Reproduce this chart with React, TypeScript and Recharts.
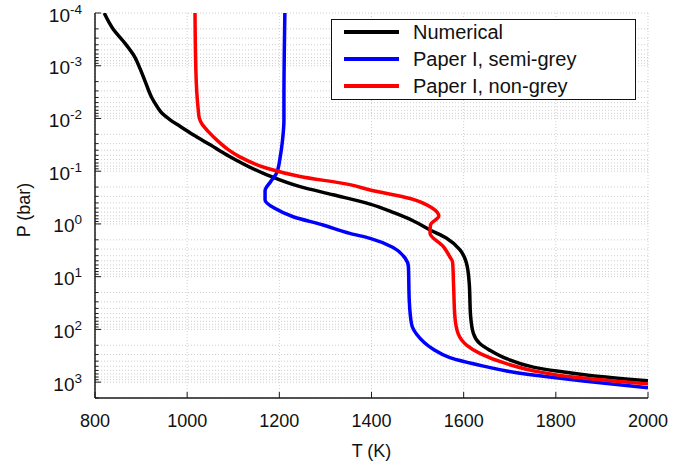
import React from 'react';
import { LineChart, Line, XAxis, YAxis, CartesianGrid, Legend } from 'recharts';

const FONT = '"Liberation Sans", Arial, Helvetica, sans-serif';

// axes
const T_TICKS = [800, 1000, 1200, 1400, 1600, 1800, 2000];
const P_DECADES = [1e-4, 1e-3, 1e-2, 1e-1, 1, 10, 100, 1000];
const P_MINOR = P_DECADES.flatMap(d => [2, 3, 4, 5, 6, 7, 8, 9].map(k => k * d)).filter(v => v <= 2000);
const P_TICKS = [...P_DECADES, ...P_MINOR].sort((a, b) => a - b);
const P_DOMAIN: [number, number] = [1e-4, 2000];

// Numerical
const numT = [820, 840, 861, 887, 898, 909, 923, 935, 945, 963, 985, 1013, 1050, 1086, 1173, 1245, 1317, 1397, 1450, 1490, 1527, 1563, 1592, 1606, 1612, 1615, 1621, 1635, 1657, 1693, 1751, 1802, 1874, 2000];
const numP = [1e-4, 2.05e-4, 3.4e-4, 7e-4, 1.15e-3, 2.0e-3, 4.0e-3, 6.0e-3, 7.9e-3, 0.0106, 0.0142, 0.0204, 0.0316, 0.049, 0.117, 0.196, 0.28, 0.42, 0.62, 0.87, 1.3, 1.87, 3.1, 5.5, 13, 55, 118, 185, 250, 360, 520, 618, 746, 940];

// Paper I, semi-grey
const semiT = [1212, 1210, 1210, 1207, 1202, 1194, 1181, 1169, 1169, 1190, 1230, 1295, 1353, 1397, 1447, 1473, 1480, 1482, 1487, 1498, 1534, 1570, 1643, 1715, 1787, 1860, 2000];
const semiP = [1e-4, 4.4e-3, 0.0106, 0.0254, 0.053, 0.109, 0.158, 0.237, 0.35, 0.505, 0.73, 1.05, 1.51, 1.88, 2.8, 4.45, 6.3, 29, 80, 124, 238, 344, 497, 663, 803, 956, 1277];

// Paper I, non-grey
const nonT = [1017, 1019, 1021, 1024, 1026, 1031, 1046, 1068, 1089, 1115, 1173, 1245, 1353, 1397, 1484, 1530, 1546, 1528, 1527, 1556, 1570, 1576, 1578, 1581, 1588, 1607, 1636, 1693, 1766, 1837, 2000];
const nonP = [1e-4, 1.3e-3, 3.3e-3, 6.8e-3, 9.5e-3, 0.0123, 0.0178, 0.0275, 0.039, 0.054, 0.088, 0.126, 0.18, 0.227, 0.33, 0.49, 0.71, 1.05, 1.5, 2.7, 4.2, 5.3, 13.5, 58, 120, 200, 288, 447, 646, 803, 1080];

const SERIES_NAMES = ['Numerical', 'Paper I, semi-grey', 'Paper I, non-grey'];
const SERIES_COLORS = ['#000000', '#0000ff', '#ff0000'];

const zip = (t: number[], p: number[]) => t.map((T, i) => ({ T, P: p[i] }));
const SERIES = [zip(numT, numP), zip(semiT, semiP), zip(nonT, nonP)];

const AXIS = '#1a1a1a';
const isDecade = (v: number) => P_DECADES.some(d => Math.abs(v / d - 1) < 1e-9);

const LeftTick = (props: any) => {
  const { x, y, payload } = props;
  const major = isDecade(payload.value);
  return (
    <g>
      <line x1={x} x2={x + (major ? 6 : 3.5)} y1={y} y2={y} stroke={AXIS} strokeWidth={1} />
      {major && (
        <text x={x - 13} y={y + 8.5} textAnchor="end" fontSize={19} fill="#111" fontFamily={FONT}>
          <tspan>10</tspan>
          <tspan dy={-8} fontSize={13.5}>{Math.round(Math.log10(payload.value))}</tspan>
        </text>
      )}
    </g>
  );
};

const RightTick = (props: any) => {
  const { x, y, payload } = props;
  const major = isDecade(payload.value);
  return <line x1={x} x2={x - (major ? 6 : 3.5)} y1={y} y2={y} stroke={AXIS} strokeWidth={1} />;
};

const BottomTick = (props: any) => {
  const { x, y, payload } = props;
  return (
    <g>
      <line x1={x} x2={x} y1={y} y2={y - 6} stroke={AXIS} strokeWidth={1} />
      <text x={x} y={y + 29} textAnchor="middle" fontSize={18} fill="#111" fontFamily={FONT}>
        {payload.value}
      </text>
    </g>
  );
};

const TopTick = (props: any) => {
  const { x, y } = props;
  return <line x1={x} x2={x} y1={y} y2={y + 6} stroke={AXIS} strokeWidth={1} />;
};

const YTitle = (props: any) => {
  const vb = props.viewBox ?? { x: 0, y: 13, width: 95, height: 385 };
  const cx = vb.x + 24;
  const cy = vb.y + vb.height / 2 + 4.5;
  return (
    <text x={cx} y={cy} transform={`rotate(-90 ${cx} ${cy})`} textAnchor="middle" dominantBaseline="central"
      fontSize={18} fill="#111" fontFamily={FONT}>
      P (bar)
    </text>
  );
};

const LegendBox = () => (
  <div style={{
    boxSizing: 'border-box', width: 305, height: 81, border: '1px solid #111', background: '#fff',
    fontFamily: FONT, fontSize: 20, color: '#111', overflow: 'hidden',
  }}>
    <div style={{ marginTop: -1.3 }}>
      {SERIES_NAMES.map((name, i) => (
        <div key={name} style={{ display: 'flex', alignItems: 'center', height: 27, whiteSpace: 'nowrap' }}>
          <span style={{ display: 'inline-block', width: 55, height: 3.5, background: SERIES_COLORS[i], marginLeft: 12, marginRight: 14.5 }} />
          <span>{name}</span>
        </div>
      ))}
    </div>
  </div>
);

export default function App() {
  const axisLine = { stroke: AXIS, strokeWidth: 1.5 };
  return (
    <div style={{ position: 'absolute', left: 0, top: 0, background: '#fff' }}>
      <LineChart width={700} height={468} margin={{ top: 13, right: 52, bottom: 0, left: 0 }}>
        <CartesianGrid stroke="#cfcfcf" strokeDasharray="1 2" strokeWidth={1} />
        <XAxis
          dataKey="T" type="number" domain={[800, 2000]} ticks={T_TICKS} interval={0} allowDataOverflow
          tick={<BottomTick />} tickLine={false} tickSize={0} tickMargin={0} height={70} axisLine={axisLine}
          label={{ value: 'T (K)', position: 'insideBottom', offset: 11.5, fontSize: 18, fill: '#111', fontFamily: FONT }}
        />
        <XAxis
          xAxisId="top" orientation="top" type="number" domain={[800, 2000]} ticks={T_TICKS} interval={0} allowDataOverflow
          tick={<TopTick />} tickLine={false} tickSize={0} tickMargin={0} height={0} axisLine={axisLine}
        />
        <YAxis
          type="number" scale="log" domain={P_DOMAIN} reversed allowDataOverflow ticks={P_TICKS} interval={0}
          tick={<LeftTick />} tickLine={false} tickSize={0} tickMargin={0} width={95} axisLine={axisLine}
          label={{ content: YTitle }}
        />
        <YAxis
          yAxisId="right" orientation="right" type="number" scale="log" domain={P_DOMAIN} reversed allowDataOverflow
          ticks={P_TICKS} interval={0} tick={<RightTick />} tickLine={false} tickSize={0} tickMargin={0} width={0}
          axisLine={axisLine}
        />
        {SERIES.map((data, i) => (
          <Line
            key={SERIES_NAMES[i]} data={data} dataKey="P" name={SERIES_NAMES[i]} type="monotoneY"
            stroke={SERIES_COLORS[i]} strokeWidth={3.5} dot={false} activeDot={false} isAnimationActive={false}
          />
        ))}
        <Legend
          layout="vertical" align="center" verticalAlign="middle" content={LegendBox}
          wrapperStyle={{ left: 330.5, top: 19, width: 305, height: 81 }}
        />
      </LineChart>
    </div>
  );
}
